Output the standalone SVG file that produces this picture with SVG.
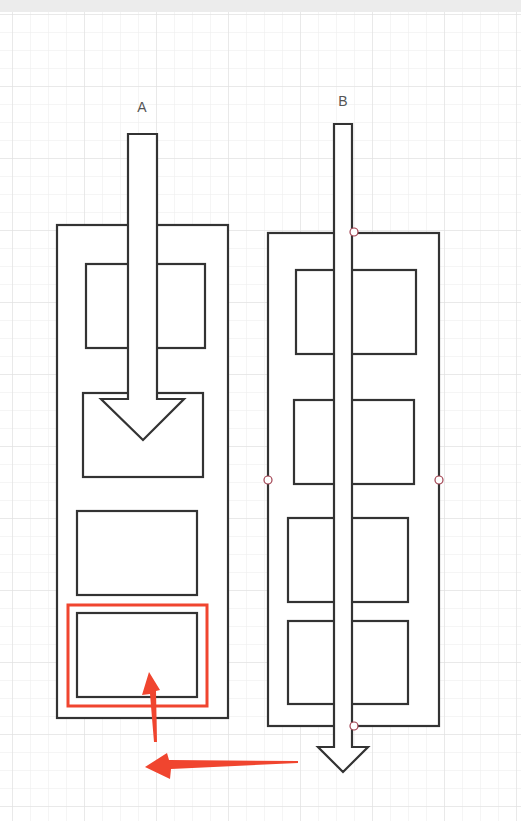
<svg xmlns="http://www.w3.org/2000/svg" width="521" height="821" viewBox="0 0 521 821">
<defs>
<pattern id="minor" x="12" y="14" width="18" height="18" patternUnits="userSpaceOnUse">
<path d="M0 0V18M0 0H18" fill="none" stroke="#ebebeb" stroke-width="1"/>
</pattern>
<pattern id="major" x="12" y="14" width="72" height="72" patternUnits="userSpaceOnUse">
<path d="M0 0V72M0 0H72" fill="none" stroke="#dedede" stroke-width="1"/>
</pattern>
</defs>
<style>
.box{fill:#fff;stroke:#333;stroke-width:2.2}
.arr{fill:#fff;stroke:#333;stroke-width:2.2;stroke-linejoin:miter}
.lbl{font-family:"Liberation Sans",Arial,sans-serif;font-size:14px;fill:#555;text-anchor:middle}
.pt{fill:#fff;stroke:#a0404f;stroke-width:1.2}
.red{fill:#f0452f;stroke:none}
</style>
<rect width="521" height="821" fill="#fff"/>
<rect width="521" height="821" fill="url(#minor)"/>
<rect width="521" height="821" fill="url(#major)"/>
<rect width="521" height="12" fill="#ececec"/>

<g id="groupA">
<rect id="A" class="box" x="57" y="225" width="171" height="493"/>
<rect id="A1" class="box" x="86" y="264" width="119" height="84"/>
<rect id="A2" class="box" x="83" y="393" width="120" height="84"/>
<rect id="A3" class="box" x="77" y="511" width="120" height="84"/>
<rect id="A4" class="box" x="77" y="613" width="120" height="84"/>
<rect id="A4sel" x="68" y="605" width="139" height="101" fill="none" stroke="#f0452f" stroke-width="3"/>
<text class="lbl" x="142" y="112">A</text>
</g>

<g id="groupB">
<rect id="B" class="box" x="268" y="233" width="171" height="493"/>
<rect id="B1" class="box" x="296" y="270" width="120" height="84"/>
<rect id="B2" class="box" x="294" y="400" width="120" height="84"/>
<rect id="B3" class="box" x="288" y="518" width="120" height="84"/>
<rect id="B4" class="box" x="288" y="621" width="120" height="83"/>
<text class="lbl" x="343" y="106">B</text>
</g>

<g id="connectors">
<polygon id="arrowA" class="arr" points="128,134 157,134 157,399 184,399 143,440 101,399 128,399"/>
<polygon id="arrowB" class="arr" points="334,124 352,124 352,747 368,747 343,772 318,747 334,747"/>
<circle class="pt" cx="354" cy="232" r="4"/>
<circle class="pt" cx="268" cy="480" r="4"/>
<circle class="pt" cx="439" cy="480" r="4"/>
<circle class="pt" cx="354" cy="726" r="4"/>
<polygon class="red" points="154,742 150,694 142,695 149,672 160,690 156,691 157,742"/>
<polygon class="red" points="298,761 169,760 167,753 145,767 170,779 171,769 298,763"/>
</g>
</svg>
